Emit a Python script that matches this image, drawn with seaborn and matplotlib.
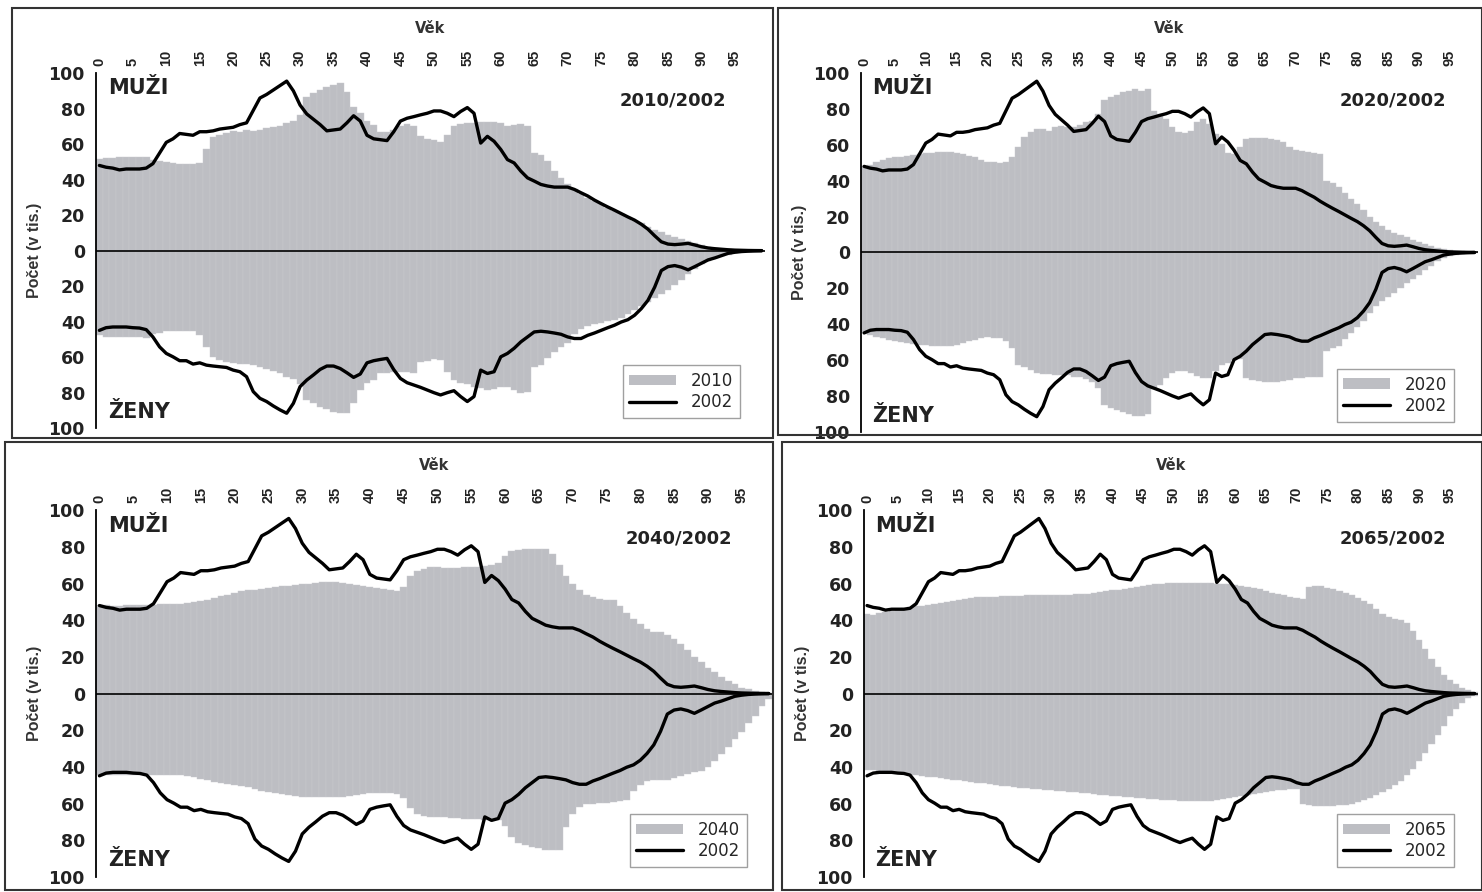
import numpy as np
import pandas as pd
import seaborn as sns
import matplotlib.pyplot as plt
from matplotlib.patches import Patch, Rectangle
from matplotlib.lines import Line2D

sns.set_style("white")
plt.rcParams['font.family'] = ['Liberation Sans', 'DejaVu Sans']

ages = list(range(100))

# 2002 reference population (thousands), ages 0-99
male_2002 = [48, 47, 46.5, 45.5, 46, 46, 46, 46.5, 49, 55,
             61, 63, 66, 65.5, 65, 67, 67, 67.5, 68.5, 69,
             69.5, 71, 72, 79, 86, 88, 90.5, 93, 95.5, 90,
             82, 77, 74, 71, 67.5, 68, 68.5, 72, 76, 73,
             65, 63, 62.5, 62, 67, 73, 74.6, 75.5, 76.5, 77.4,
             78.7, 78.7, 77.4, 75.5, 78.4, 80.6, 77.4, 60.6, 64.4, 61.6,
             57, 51.3, 49.4, 44.8, 41, 39.2, 37.3, 36.4, 35.8, 35.8,
             35.8, 34.5, 32.6, 30.8, 28.5, 26.5, 24.6, 22.8, 20.9, 19,
             17.2, 14.9, 12.1, 8.4, 5, 3.7, 3.4, 3.7, 4.1, 3.2,
             2.2, 1.5, 1.1, 0.8, 0.5, 0.3, 0.2, 0.1, 0.05, 0.02]
female_2002 = [44.9, 43.4, 43, 43, 43, 43.4, 43.6, 44.5, 48.6, 54.2,
               57.9, 59.8, 62, 62, 63.9, 63.2, 64.5, 65, 65.4, 65.8,
               67.3, 68.2, 71, 79.4, 83.2, 85, 87.5, 89.7, 91.6, 86,
               76.6, 72.9, 70, 66.9, 65, 65, 66.4, 68.8, 71.4, 69.5,
               63.2, 62, 61.3, 60.7, 67, 72, 74.4, 75.7, 77, 78.5,
               80, 81.3, 80, 78.9, 82.2, 85, 82.2, 67.3, 69.2, 68.2,
               59.8, 57.9, 55, 51.4, 48.6, 45.8, 45.4, 45.8, 46.4, 47.1,
               48.6, 49.5, 49.5, 47.7, 46.4, 44.9, 43.4, 42, 40.2, 38.9,
               36.4, 32.7, 28, 20.6, 11.2, 9, 8.4, 9.3, 10.8, 9,
               7.1, 5.2, 4.1, 2.8, 1.5, 0.9, 0.5, 0.3, 0.15, 0.05]

male_2010 = [51.7, 52, 52.2, 52.6, 52.6, 52.6, 52.6, 52.6, 51.3, 50.7,
             50, 49.4, 49, 49, 49, 49.4, 57, 64, 65.3, 66.2,
             67.2, 66.8, 68, 67.5, 68, 69, 69.4, 70, 71.8, 73.3,
             76.5, 86.7, 88.6, 90.5, 92, 93.3, 94.2, 89.6, 81, 77.4,
             72.8, 70.9, 67, 67, 68, 70, 71.3, 70.5, 64.4, 63,
             62.5, 61.2, 65.3, 70, 71.3, 71.8, 71.8, 72.4, 72.4, 72.4,
             71.8, 70, 71, 71.3, 70.5, 55, 54, 50.4, 44.8, 41,
             37.3, 34.5, 32, 29.9, 28, 26.1, 24.2, 22.4, 20.5, 18.7,
             16.8, 15.3, 13.4, 11.6, 10.3, 9, 7.8, 6.5, 5.2, 4.1,
             3.2, 2.2, 1.5, 1.0, 0.7, 0.5, 0.3, 0.2, 0.1, 0.05]
female_2010 = [47.7, 48.6, 48.6, 48.6, 48.6, 48.6, 48.6, 49, 46.7, 46.4,
               45.2, 45.2, 45.2, 45.2, 45.2, 47.7, 54.2, 59.8, 61.7, 62.6,
               63.2, 63.9, 63.9, 64.5, 65.4, 66.4, 67.7, 69.2, 71, 72.5,
               75.1, 84.1, 86, 87.9, 89.3, 90.7, 91.6, 91.2, 86, 78.5,
               74.8, 72.9, 69.2, 68.8, 68.2, 68.2, 68.2, 69.2, 62.6, 62,
               61.3, 61.7, 68.2, 72.9, 74.4, 75.1, 76.6, 77.6, 78.5, 78.1,
               76.6, 76.6, 78.5, 80.4, 79.4, 65.4, 64.5, 60.7, 57, 54.2,
               52.3, 46.7, 43.9, 42.6, 41.5, 40.7, 39.8, 38.9, 37.8, 35.9,
               33.6, 31.4, 29, 26.5, 24.3, 22, 19.6, 16.4, 13.1, 10.3,
               7.5, 5.6, 4.1, 3.0, 2.2, 1.5, 1.0, 0.6, 0.3, 0.15]

male_2020 = [48.3, 48.9, 50.2, 51.5, 52.6, 53, 53.4, 53.7, 54.5, 54.9,
             55.2, 55.6, 55.8, 55.8, 55.8, 55.4, 54.9, 53.9, 53, 51.5,
             50.2, 50.2, 49.8, 50.2, 53.4, 58.6, 64.6, 67, 68.8, 68.8,
             67.9, 70.1, 70.7, 70.1, 70.1, 71.3, 72.6, 73.5, 77.2, 85.1,
             86.6, 88, 89.4, 90.3, 91.2, 90.3, 91.2, 79, 77.2, 74.4,
             69.8, 67, 66.4, 67.5, 72.6, 74.4, 71.6, 66, 60.4, 55.5,
             55, 58.6, 63.2, 63.8, 63.8, 63.8, 63.2, 62.7, 61.4, 58.6,
             57.1, 56.3, 55.8, 55.5, 54.9, 40, 38.5, 36.5, 33, 30,
             27, 23.5, 20, 17, 14.5, 12.3, 11, 9.8, 8.5, 7,
             5.8, 4.6, 3.6, 2.7, 2, 1.5, 1.0, 0.6, 0.3, 0.15]
female_2020 = [44.9, 46.2, 47.3, 48, 48.6, 49.2, 49.9, 50.5, 51, 51.4,
               51.8, 52.1, 52.3, 52.3, 52, 51.4, 50.5, 49.5, 48.6, 47.7,
               47.3, 47.7, 48, 49.5, 53.3, 62.6, 64.1, 65.4, 67.3, 67.9,
               67.9, 68.2, 68.2, 68.2, 69.2, 69.7, 70.5, 72, 75.7, 85,
               86.5, 87.9, 88.8, 90.3, 91, 91, 90, 76, 74, 70,
               67, 66, 66, 67.5, 69, 70, 70, 66, 63, 61.5,
               60, 59.5, 70, 71, 71.5, 72, 72, 72, 71.5, 71,
               70, 70, 69.5, 69.5, 69.5, 55, 53.5, 52, 48.5, 45,
               41.5, 38, 34, 30, 27, 25, 22.8, 20, 17.2, 15,
               12.5, 10, 7.5, 5, 3, 2, 1.3, 0.8, 0.4, 0.2]

male_2040 = [48.4, 48.1, 47.9, 47.9, 48.1, 48.1, 48.1, 48.1, 48.1, 48.8,
             48.8, 48.8, 48.8, 49.4, 49.7, 50.3, 51.2, 52.1, 53, 53.9,
             54.8, 55.8, 56.3, 56.7, 57.2, 57.6, 58.1, 58.5, 58.9, 59.2,
             59.6, 60, 60.3, 60.7, 60.9, 60.7, 60.3, 60, 59.4, 58.9,
             58.1, 57.6, 57, 56.5, 56.2, 58, 64, 67, 68, 69,
             68.8, 68.6, 68.6, 68.6, 69, 69, 69, 69.3, 70, 71,
             75, 78, 78.4, 78.8, 79, 79, 78.8, 76, 70, 64,
             60, 56.5, 54, 52.5, 51.5, 51.2, 51, 48, 44, 40.5,
             38, 35, 33.8, 33.4, 32, 29.5, 27, 24, 20, 17,
             14, 11.5, 9, 7, 5, 3.2, 2.2, 1.3, 0.8, 0.4]
female_2040 = [44.5, 44.5, 44.5, 44.5, 44.5, 44.5, 44.5, 44.5, 44.5, 44.5,
               44.5, 44.5, 44.5, 45, 45.5, 46.5, 47.3, 48, 48.6, 49.1,
               49.7, 50.3, 50.9, 52, 53, 53.8, 54.5, 55, 55.5, 56,
               56.5, 56.7, 56.7, 56.7, 56.7, 56.6, 56.4, 56, 55.5, 54.8,
               54.5, 54.5, 54.5, 54.5, 55, 57, 62.7, 65.5, 67, 67.4,
               67.6, 67.6, 67.8, 68, 68.2, 68.4, 68.6, 68.8, 69, 69.1,
               72, 78.2, 81.8, 82.7, 83.6, 84.5, 85.5, 85.5, 85.5, 73,
               65.5, 62, 60.5, 60, 59.6, 59.6, 59.3, 58.8, 58.2, 53,
               50, 47.5, 47.3, 47.3, 47, 46, 45, 44, 43, 42,
               40, 37, 33, 29, 25, 21, 16, 12, 7, 3]

male_2065 = [43.4, 43.1, 43.8, 44.5, 45.2, 46, 46.6, 47.1, 47.5, 47.8,
             48.2, 48.7, 49.3, 49.8, 50.5, 51.2, 51.8, 52.2, 52.5, 52.7,
             52.8, 52.9, 53, 53.2, 53.3, 53.4, 53.5, 53.5, 53.6, 53.8,
             54, 54, 54, 54, 54.1, 54.2, 54.4, 55, 55.5, 56,
             56.3, 56.7, 57.2, 57.7, 58.2, 58.7, 59.2, 59.6, 59.9, 60.1,
             60.2, 60.2, 60.2, 60.2, 60.2, 60.2, 60.1, 60, 59.9, 59.7,
             59.4, 58.7, 58, 57.6, 56.8, 56, 55.1, 54.3, 53.5, 52.7,
             52.3, 51.6, 58, 58.4, 58.4, 57.8, 56.8, 55.8, 54.8, 53.5,
             52.3, 50.6, 48.9, 46.3, 43.6, 41.5, 40.9, 40, 38.5, 34,
             29, 24.2, 19, 14.5, 10, 7.2, 5, 3.2, 1.8, 1.0]
female_2065 = [41.5, 41.8, 42.2, 42.6, 43, 43.4, 43.8, 44.2, 44.6, 45,
               45.4, 45.8, 46.2, 46.6, 47, 47.4, 47.8, 48.2, 48.6, 49,
               49.4, 49.8, 50.2, 50.6, 51, 51.3, 51.6, 51.9, 52.2, 52.5,
               52.8, 53, 53.3, 53.6, 53.9, 54.2, 54.5, 54.8, 55.1, 55.4,
               55.7, 56, 56.3, 56.6, 56.9, 57.2, 57.5, 57.7, 57.9, 58.1,
               58.3, 58.4, 58.5, 58.6, 58.6, 58.6, 58.4, 58.1, 57.7, 57.2,
               56.6, 56, 55.4, 54.8, 54.2, 53.7, 53.2, 52.8, 52.5, 52.2,
               52, 60, 60.8, 61.2, 61.3, 61.3, 61.2, 61, 60.6, 60,
               59.2, 58.2, 57, 55.5, 53.8, 52, 50, 47.5, 44.5, 41,
               37, 32.5, 27.5, 22.5, 17.5, 12.5, 8.5, 5, 2.5, 1.2]

GRAY = '#bdbec3'
WIDE = ['DejaVu Sans']

panels = [
    ('2010', male_2010, female_2010, [0.0648, 0.520, 0.4514, 0.398]),
    ('2020', male_2020, female_2020, [0.5810, 0.516, 0.4160, 0.402]),
    ('2040', male_2040, female_2040, [0.0648, 0.017, 0.4562, 0.411]),
    ('2065', male_2065, female_2065, [0.5830, 0.017, 0.4140, 0.411]),
]
frames = [(12, 8, 773, 438), (778, 8, 1482, 435), (5, 442, 773, 890), (782, 442, 1482, 890)]

fig = plt.figure(figsize=(14.82, 8.92), dpi=100)

for (year, male, female, rect) in panels:
    ax = fig.add_axes(rect)
    df = pd.DataFrame({'age': ages, 'male': male, 'female': [-v for v in female]})
    sns.barplot(data=df, x='age', y='male', color=GRAY, saturation=1, width=1,
                edgecolor='#c9cace', linewidth=0.3, ax=ax)
    sns.barplot(data=df, x='age', y='female', color=GRAY, saturation=1, width=1,
                edgecolor='#c9cace', linewidth=0.3, ax=ax)
    sns.lineplot(x=ages, y=male_2002, color='black', lw=2.4, ax=ax)
    sns.lineplot(x=ages, y=[-v for v in female_2002], color='black', lw=2.4, ax=ax)
    ax.axhline(0, color='black', lw=1.2)

    ax.set_xlim(-0.5, 99.5)
    ax.set_ylim(-100, 100)
    ax.xaxis.tick_top()
    ax.xaxis.set_label_position('top')
    ax.set_xticks(list(range(0, 100, 5)))
    ax.set_xticklabels([str(a) for a in range(0, 100, 5)], rotation=90,
                       fontsize=10.5, fontweight='bold', color='#222222')
    ax.tick_params(axis='x', length=0, pad=5)
    ax.set_xlabel('Věk', fontsize=10.5, fontweight='bold', color='#333333',
                  labelpad=12, family=WIDE)

    yt = list(range(-100, 101, 20))
    ax.set_yticks(yt)
    ax.set_yticklabels([str(abs(v)) for v in yt], fontsize=12.5, fontweight='bold',
                       color='#222222', family=WIDE)
    ax.tick_params(axis='y', length=5, width=1.2, direction='out', color='black', pad=3)
    ax.set_ylabel('Počet (v tis.)', fontsize=11.5, fontweight='bold', color='#333333', labelpad=5)

    for s in ['top', 'right', 'bottom']:
        ax.spines[s].set_visible(False)
    ax.spines['left'].set_color('black')
    ax.spines['left'].set_linewidth(1.3)

    ax.text(0.018, 0.958, 'MUŽI', transform=ax.transAxes, fontsize=15,
            fontweight='heavy', color='#222222', va='center', ha='left', family=WIDE)
    ax.text(0.018, 0.045, 'ŽENY', transform=ax.transAxes, fontsize=15,
            fontweight='heavy', color='#222222', va='center', ha='left', family=WIDE)
    ax.text(0.862, 0.924, year + '/2002', transform=ax.transAxes, fontsize=13,
            fontweight='bold', color='#222222', va='center', ha='center', family=WIDE)

    handles = [Patch(facecolor=GRAY, edgecolor='none'),
               Line2D([0], [0], color='black', lw=2.4)]
    leg = ax.legend(handles, [year, '2002'], loc='lower right',
                    bbox_to_anchor=(0.975, 0.005), frameon=True,
                    fancybox=False, handlelength=2.8, handleheight=0.6,
                    borderpad=0.4, labelspacing=0.2, handletextpad=0.9,
                    prop={'family': WIDE, 'size': 12})
    leg.get_frame().set_edgecolor('#888888')
    leg.get_frame().set_linewidth(1.0)

for (x0, y0, x1, y1) in frames:
    fig.add_artist(Rectangle((x0 / 1482, 1 - y1 / 892), (x1 - x0) / 1482, (y1 - y0) / 892,
                             transform=fig.transFigure, fill=False,
                             edgecolor='#333333', lw=1.5))

fig.savefig('out.png', dpi=100, facecolor='white')
